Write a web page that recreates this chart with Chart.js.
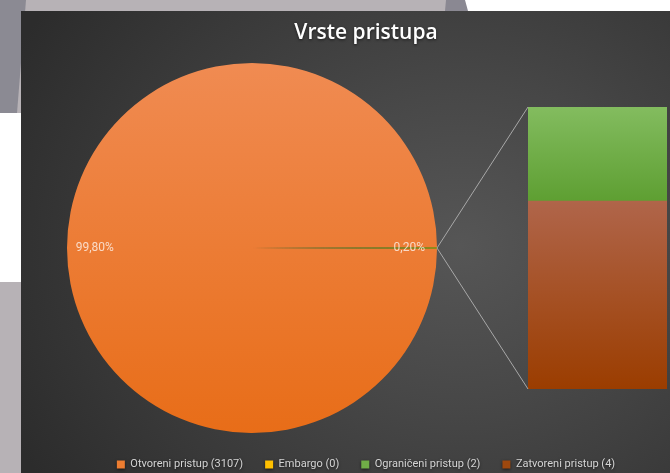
<!DOCTYPE html>
<html><head><meta charset="utf-8">
<script src="https://cdn.jsdelivr.net/npm/chart.js@4.4.1/dist/chart.umd.min.js"></script>
<style>
html,body{margin:0;padding:0;width:670px;height:473px;overflow:hidden;background:#b7b2b6;position:relative}
.bg{position:absolute}
#frame{position:absolute;left:21px;top:11px;width:690px;height:469px;
 background:radial-gradient(ellipse 500px 430px at 440px 235px,#565656 0%,#464646 40%,#2c2c2c 100%)}
#frame canvas{position:absolute;left:0;top:0}
</style></head><body>
<div class="bg" style="left:0;top:0;width:30px;height:113px;background:#8b8a93;clip-path:polygon(0 0,26px 0,17px 113px,0 113px)"></div>
<div class="bg" style="left:0;top:113px;width:21px;height:169px;background:#fff"></div>
<div class="bg" style="left:465px;top:0;width:205px;height:11px;background:#fff"></div>
<div class="bg" style="left:441px;top:0;width:30px;height:11px;background:#8a8892;clip-path:polygon(5px 0,24px 0,27px 11px,4px 11px)"></div>
<div id="frame">
 <canvas id="pie" width="690" height="469"></canvas>
 <canvas id="bar" width="690" height="469"></canvas>
</div>
<script>
const categories = ['Otvoreni pristup', 'Embargo', 'Ograničeni pristup', 'Zatvoreni pristup'];
const counts = [3107, 0, 2, 4];
const pctLabels = ['99,80%', '0,20%'];
const legendColors = ['#ed7d31', '#ffc000', '#70ad47', '#9e480e'];
const otherLabel = 'Ostalo';

const FONT = "Roboto, 'Liberation Sans', sans-serif";
const TITLE_FONT = "'Open Sans', Roboto, sans-serif";
const otherSum = counts[1] + counts[2] + counts[3];
const total = counts[0] + otherSum;

function vGrad(ctx, y0, y1, c0, c1) {
  const g = ctx.createLinearGradient(0, y0, 0, y1);
  g.addColorStop(0, c0); g.addColorStop(1, c1); return g;
}

const pctPlugin = {
  id: 'pct',
  afterDatasetsDraw(chart) {
    const ctx = chart.ctx;
    const meta = chart.getDatasetMeta(0);
    ctx.save();
    ctx.font = "12px " + FONT;
    ctx.fillStyle = 'rgba(255,255,255,0.72)';
    ctx.textAlign = 'center'; ctx.textBaseline = 'middle';
    meta.data.forEach((arc, i) => {
      const mid = (arc.startAngle + arc.endAngle) / 2;
      const r = arc.outerRadius * 0.85;
      ctx.fillText(pctLabels[i], arc.x + Math.cos(mid) * r, arc.y + Math.sin(mid) * r);
    });
    ctx.restore();
  }
};

const pieChart = new Chart(document.getElementById('pie'), {
  type: 'pie',
  data: {
    labels: [categories[0], otherLabel],
    datasets: [{
      data: [counts[0], otherSum],
      backgroundColor: (c) => {
        if (c.dataIndex === 1) return '#8f8a1c';
        const a = c.chart.chartArea; if (!a) return '#ef7d32';
        return vGrad(c.chart.ctx, a.top, a.bottom, '#f08b52', '#e86d18');
      },
      borderWidth: 0, hoverOffset: 0
    }]
  },
  options: {
    responsive: false, animation: false, events: [],
    rotation: 90 + 180 * otherSum / total,
    layout: { padding: { left: 46, right: 274, top: 52, bottom: 47 } },
    plugins: { legend: { display: false }, title: { display: false }, tooltip: { enabled: false } }
  },
  plugins: [pctPlugin]
});

const connectorPlugin = {
  id: 'connector',
  afterDatasetsDraw(chart) {
    const pm = pieChart.getDatasetMeta(0).data[1];
    if (!pm) return;
    const mid = (pm.startAngle + pm.endAngle) / 2;
    const px = pm.x + Math.cos(mid) * pm.outerRadius;
    const py = pm.y + Math.sin(mid) * pm.outerRadius;
    const bot = chart.getDatasetMeta(0).data[0];
    const top = chart.getDatasetMeta(1).data[0];
    const left = bot.x - bot.width / 2;
    const ctx = chart.ctx;
    ctx.save();
    ctx.strokeStyle = '#a8a8a8'; ctx.lineWidth = 1;
    ctx.beginPath();
    ctx.moveTo(px, py); ctx.lineTo(left, top.y);
    ctx.moveTo(px, py); ctx.lineTo(left, bot.base);
    ctx.stroke();
    ctx.restore();
  }
};

const titleShadow = {
  id: 'titleShadow',
  beforeDraw(chart) { chart.ctx.save(); chart.ctx.shadowColor = 'rgba(0,0,0,0.6)'; chart.ctx.shadowBlur = 3; chart.ctx.shadowOffsetY = 1; },
  beforeDatasetsDraw(chart) { chart.ctx.restore(); }
};

const hidden = { ticks: { display: false }, grid: { display: false }, border: { display: false } };

new Chart(document.getElementById('bar'), {
  type: 'bar',
  data: {
    labels: [otherLabel],
    datasets: [
      { label: categories[3], data: [counts[3]],
        backgroundColor: (c) => { const s = c.chart.scales.y; if (!s) return legendColors[3];
          return vGrad(c.chart.ctx, s.getPixelForValue(counts[3]), s.getPixelForValue(0), '#b0654a', '#9b3d00'); } },
      { label: categories[2], data: [counts[2]],
        backgroundColor: (c) => { const s = c.chart.scales.y; if (!s) return legendColors[2];
          return vGrad(c.chart.ctx, s.getPixelForValue(counts[3] + counts[2]), s.getPixelForValue(counts[3]), '#83bc5f', '#5e9f32'); } },
      { label: categories[1], data: [counts[1]], backgroundColor: legendColors[1] }
    ]
  },
  options: {
    responsive: false, animation: false, events: [],
    datasets: { bar: { barPercentage: 1, categoryPercentage: 1, borderWidth: 0 } },
    layout: { padding: 0 },
    scales: {
      x: Object.assign({ stacked: true, display: true,
        afterFit(s) { const lg = s.chart.legend; s.height = Math.max(0, s.chart.height - (lg ? lg.height : 0) - 378); } }, hidden),
      y: Object.assign({ stacked: true, min: 0, max: otherSum, display: true, position: 'left',
        afterFit(s) { s.width = 507; } }, hidden),
      y2: Object.assign({ display: true, position: 'right', afterFit(s) { s.width = 44; } }, hidden)
    },
    plugins: {
      tooltip: { enabled: false },
      title: { display: true, text: 'Vrste pristupa', color: '#ffffff',
        font: { family: TITLE_FONT, size: 21, weight: '600' }, padding: { top: 9, bottom: 61.8 } },
      legend: { position: 'bottom',
        labels: { boxWidth: 8, boxHeight: 8, padding: 22, color: '#d4d4d4',
          font: { family: FONT, size: 11 },
          generateLabels: () => categories.map((c, i) => ({
            text: c + ' (' + counts[i] + ')', fillStyle: legendColors[i], strokeStyle: legendColors[i],
            lineWidth: 0, fontColor: '#d4d4d4', hidden: false, index: i })) } }
    }
  },
  plugins: [titleShadow, connectorPlugin]
});
</script>
</body></html>
